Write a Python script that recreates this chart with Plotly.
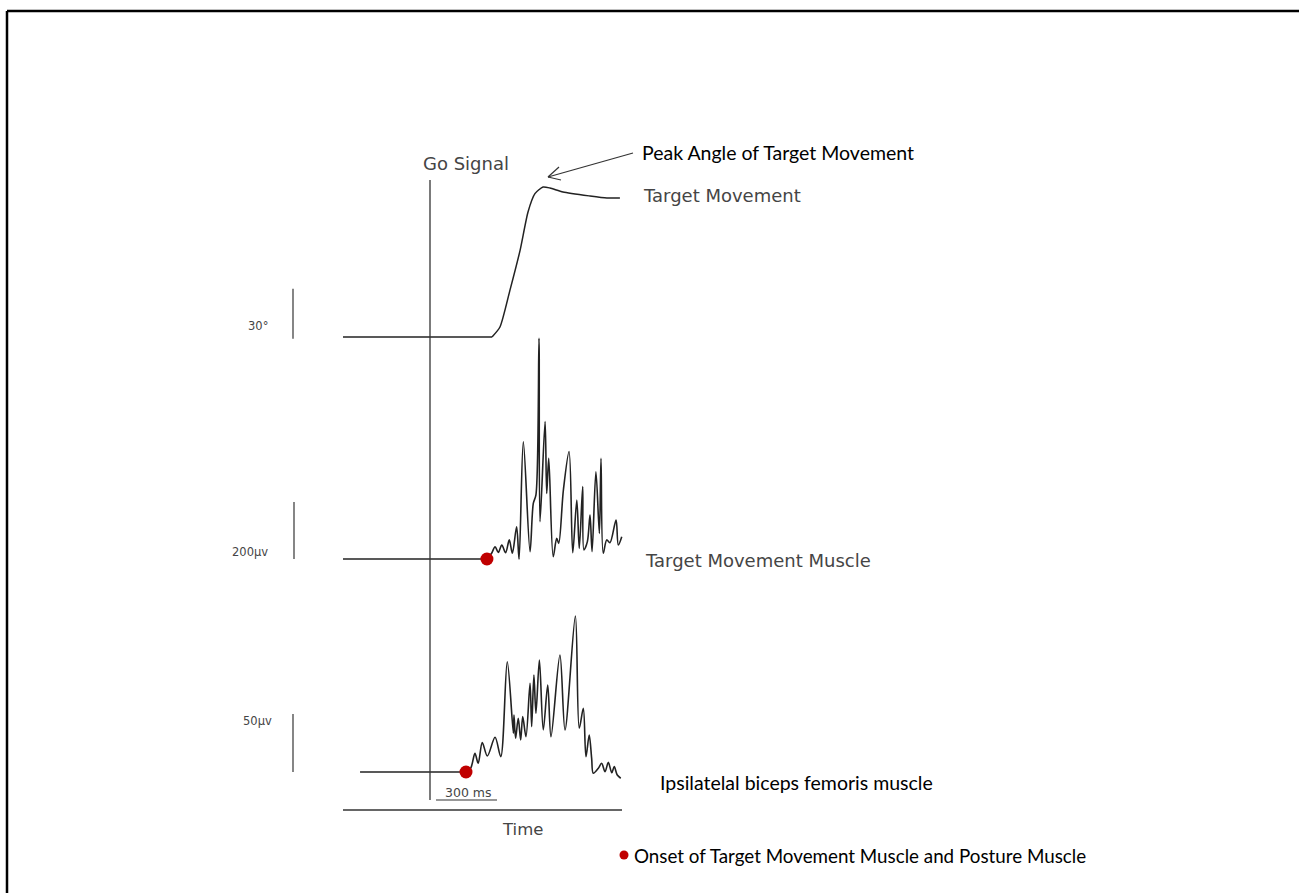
import plotly.graph_objects as go

W, H = 1299, 893

# ---------------- data ----------------
# Target movement (joint angle, degrees) vs time from go signal (ms)
angle_base_t = [-428, 305]
angle_base_v = [0, 0]
angle_t = [305, 344, 393, 443, 482, 516, 556, 590, 654, 787, 870, 934]
angle_deg = [0, 6, 28, 52, 75, 86, 90, 89.4, 87, 84.6, 83.4, 83.4]

# Target movement muscle EMG (µV)
tm_base_t = [-428, 280]
tm_base_v = [0, 0]
tm_t = [280, 303, 320, 336, 353, 372, 390, 405, 426, 438, 459, 492, 508, 521, 536, 541,
        566, 574, 584, 606, 623, 633, 656, 684, 702, 722, 734, 751, 757, 774, 787,
        797, 816, 833, 841, 852, 869, 885, 915, 926, 943]
tm_v = [0, 20, 43, 23, 49, 22, 67, 20, 113, -1, 411, 26, 195, 225, 774, 131,
        482, 230, 353, 8, 73, 55, 242, 377, 22, 207, 37, 254, 32, 61, 154,
        26, 306, 90, 353, 20, 67, 57, 137, 49, 78]

# Ipsilateral biceps femoris EMG (µV)
bf_base_t = [-344, 177]
bf_base_v = [0, 0]
bf_t = [177, 200, 221, 237, 257, 282, 320, 348, 380, 410, 413, 421, 434, 446, 456, 472,
        492, 500, 511, 521, 538, 557, 579, 595, 639, 664, 715, 734, 754, 767, 783,
        795, 803, 828, 844, 861, 877, 894, 906, 921, 938]
bf_v = [0, 3.2, 16.1, 7.5, 25.3, 13.8, 29.9, 13.2, 95.1, 33.4, 49.1, 29.1, 46.3, 27.6, 47.7, 30.4,
        76.5, 39.1, 83.6, 50.6, 96.5, 36.2, 75.0, 30.4, 100.9, 36.2, 134.5, 37.7, 54.9, 13.2, 31.9,
        11.8, -1.1, 3.2, 7.5, 0.3, 8.4, -0.6, 4.6, -2.6, -5.4]

# onsets (ms)
onset_t = [280, 177]

# scale bars
angle_scale = 30      # degrees
tm_scale = 200        # µV
bf_scale = 50         # µV
time_scale = 300      # ms

# ---------------- geometry helpers ----------------
GO_PX = 430
PX_PER_MS = 61 / 300


def px_to_ms(px):
    return (px - GO_PX) / PX_PER_MS


def yr(base_px, upp):
    return [-(H - base_px) * upp, base_px * upp]


def P(px, py):
    return px / W, 1 - py / H


ANG_UPP = 30 / 50
TM_UPP = 200 / 57
BF_UPP = 50 / 58

LINE = "#222222"
GRAY = "#454545"
RED = "#c00000"
GRAY_FONT = "DejaVu Sans"
BLACK_FONT = "Lato"

fig = go.Figure()

# target movement
fig.add_trace(go.Scatter(x=angle_base_t, y=angle_base_v, mode="lines", yaxis="y",
                         line=dict(color=LINE, width=1.5), showlegend=False))
fig.add_trace(go.Scatter(x=angle_t, y=angle_deg, mode="lines", yaxis="y",
                         line=dict(color=LINE, width=1.5, shape="spline", smoothing=0.6),
                         showlegend=False))
# target movement muscle
fig.add_trace(go.Scatter(x=tm_base_t, y=tm_base_v, mode="lines", yaxis="y2",
                         line=dict(color=LINE, width=1.5), showlegend=False))
fig.add_trace(go.Scatter(x=tm_t, y=tm_v, mode="lines", yaxis="y2",
                         line=dict(color=LINE, width=1.6, shape="spline", smoothing=0.9),
                         showlegend=False))
# biceps femoris
fig.add_trace(go.Scatter(x=bf_base_t, y=bf_base_v, mode="lines", yaxis="y3",
                         line=dict(color=LINE, width=1.5), showlegend=False))
fig.add_trace(go.Scatter(x=bf_t, y=bf_v, mode="lines", yaxis="y3",
                         line=dict(color=LINE, width=1.6, shape="spline", smoothing=0.9),
                         showlegend=False))
# onset markers
fig.add_trace(go.Scatter(x=[onset_t[0]], y=[0], mode="markers", yaxis="y2",
                         marker=dict(color=RED, size=13), showlegend=False))
fig.add_trace(go.Scatter(x=[onset_t[1]], y=[0], mode="markers", yaxis="y3",
                         marker=dict(color=RED, size=13), showlegend=False))

shapes = []
# border (left + top)
shapes.append(dict(type="line", xref="paper", yref="paper", x0=7 / W, x1=7 / W, y0=0, y1=1 - 11 / H,
                   line=dict(color="#000", width=2.5)))
shapes.append(dict(type="line", xref="paper", yref="paper", x0=7 / W, x1=1, y0=1 - 11 / H, y1=1 - 11 / H,
                   line=dict(color="#000", width=2.5)))
# go signal line
shapes.append(dict(type="line", xref="x", yref="paper", x0=0, x1=0, y0=1 - 800 / H, y1=1 - 180 / H,
                   line=dict(color="#333", width=1.3)))
# time axis
shapes.append(dict(type="line", xref="x", yref="paper", x0=px_to_ms(343), x1=px_to_ms(622),
                   y0=1 - 810 / H, y1=1 - 810 / H, line=dict(color="#333", width=1.3)))
# 300 ms scale bar
shapes.append(dict(type="line", xref="x", yref="paper", x0=px_to_ms(436), x1=px_to_ms(436) + time_scale,
                   y0=1 - 800 / H, y1=1 - 800 / H, line=dict(color="#333", width=1.2)))
# amplitude scale bars
shapes.append(dict(type="line", xref="x", yref="y", x0=px_to_ms(293), x1=px_to_ms(293),
                   y0=-1, y1=angle_scale - 1, line=dict(color="#444", width=1.3)))
shapes.append(dict(type="line", xref="x", yref="y2", x0=px_to_ms(294), x1=px_to_ms(294),
                   y0=0, y1=tm_scale, line=dict(color="#444", width=1.3)))
shapes.append(dict(type="line", xref="x", yref="y3", x0=px_to_ms(293), x1=px_to_ms(293),
                   y0=0, y1=bf_scale, line=dict(color="#444", width=1.3)))
# arrow to peak angle (open head)
tip = (548, 177)
tail = (633, 153)
for a, b in [(tail, tip), ((559, 167), tip), ((561, 180), tip)]:
    x0, y0 = P(*a)
    x1, y1 = P(*b)
    shapes.append(dict(type="line", xref="paper", yref="paper", x0=x0, y0=y0, x1=x1, y1=y1,
                       line=dict(color="#333", width=1.2)))
# legend dot
lx, ly = P(624, 855)
shapes.append(dict(type="circle", xref="paper", yref="paper", x0=lx - 4.5 / W, x1=lx + 4.5 / W,
                   y0=ly - 4.5 / H, y1=ly + 4.5 / H, fillcolor=RED, line=dict(width=0)))

annotations = []


def txt(s, px, py, size, color, family, xanchor="left"):
    x, y = P(px, py)
    annotations.append(dict(text=s, x=x, y=y, xref="paper", yref="paper", showarrow=False,
                            xanchor=xanchor, yanchor="middle",
                            font=dict(size=size, color=color, family=family)))


txt("Go Signal", 466, 163, 18, GRAY, GRAY_FONT, "center")
txt("Target Movement", 641, 196, 18, GRAY, GRAY_FONT)
txt("Target Movement Muscle", 643, 560, 18, GRAY, GRAY_FONT)
txt("Time", 522, 829, 16.5, GRAY, GRAY_FONT, "center")
txt("300 ms", 468, 792, 12.5, GRAY, GRAY_FONT, "center")
txt("30°", 258, 326, 11.5, GRAY, GRAY_FONT, "center")
txt("200µv", 250, 552, 11.5, GRAY, GRAY_FONT, "center")
txt("50µv", 257, 721, 11.5, GRAY, GRAY_FONT, "center")
txt("Peak Angle of Target Movement", 640, 153, 19.5, "#000", BLACK_FONT)
txt("Ipsilatelal biceps femoris muscle", 658, 782, 19.5, "#000", BLACK_FONT)
txt("Onset of Target Movement Muscle and Posture Muscle", 632, 855, 18.8, "#000", BLACK_FONT)

fig.update_layout(
    width=W, height=H, margin=dict(l=0, r=0, t=0, b=0),
    paper_bgcolor="white", plot_bgcolor="white",
    xaxis=dict(range=[px_to_ms(0), px_to_ms(W)], visible=False, domain=[0, 1]),
    yaxis=dict(range=yr(337, ANG_UPP), visible=False, domain=[0, 1]),
    yaxis2=dict(range=yr(559, TM_UPP), visible=False, overlaying="y"),
    yaxis3=dict(range=yr(772, BF_UPP), visible=False, overlaying="y"),
    shapes=shapes, annotations=annotations, showlegend=False,
)

fig.write_html("out.html")
